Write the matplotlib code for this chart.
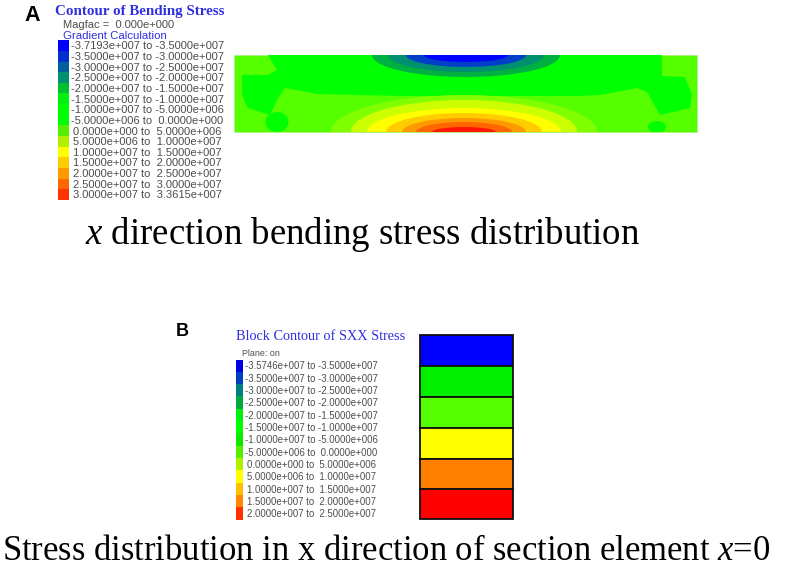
import matplotlib
matplotlib.use("Agg")
import matplotlib.pyplot as plt
from matplotlib.patches import Ellipse, Polygon, Rectangle

plt.rcParams["mathtext.fontset"] = "custom"
plt.rcParams["mathtext.rm"] = "Liberation Serif"
plt.rcParams["mathtext.it"] = "Liberation Serif:italic"

# ---- legend data ----
labels_a = [
    "-3.7193e+007 to -3.5000e+007", "-3.5000e+007 to -3.0000e+007",
    "-3.0000e+007 to -2.5000e+007", "-2.5000e+007 to -2.0000e+007",
    "-2.0000e+007 to -1.5000e+007", "-1.5000e+007 to -1.0000e+007",
    "-1.0000e+007 to -5.0000e+006", "-5.0000e+006 to  0.0000e+000",
    " 0.0000e+000 to  5.0000e+006", " 5.0000e+006 to  1.0000e+007",
    " 1.0000e+007 to  1.5000e+007", " 1.5000e+007 to  2.0000e+007",
    " 2.0000e+007 to  2.5000e+007", " 2.5000e+007 to  3.0000e+007",
    " 3.0000e+007 to  3.3615e+007",
]
colors_a = ["#0000ff", "#0030d0", "#00609c", "#009070", "#00c030", "#00f010", "#00ff00",
            "#00ff00", "#55ee00", "#b0f000", "#ffff00", "#ffcc00", "#ff9900", "#ff6600", "#ff3300"]
labels_b = [
    "-3.5746e+007 to -3.5000e+007", "-3.5000e+007 to -3.0000e+007",
    "-3.0000e+007 to -2.5000e+007", "-2.5000e+007 to -2.0000e+007",
    "-2.0000e+007 to -1.5000e+007", "-1.5000e+007 to -1.0000e+007",
    "-1.0000e+007 to -5.0000e+006", "-5.0000e+006 to  0.0000e+000",
    " 0.0000e+000 to  5.0000e+006", " 5.0000e+006 to  1.0000e+007",
    " 1.0000e+007 to  1.5000e+007", " 1.5000e+007 to  2.0000e+007",
    " 2.0000e+007 to  2.5000e+007",
]
colors_b = ["#0000e0", "#0040c0", "#007f80", "#00a840", "#00f010", "#00ff00", "#10e800",
            "#55ee00", "#b0f000", "#ffff00", "#ffc000", "#ff8800", "#ff3300"]

# ---- contour A: bands (half widths and reach, px) ----
plate = (234, 55, 697, 132)
top_centre = 466
top_widths = [94, 78, 60, 42]
top_depths = [22, 17, 12, 7]
top_colors = ["#00b040", "#009070", "#0040c8", "#0000ff"]
bottom_centre = 464
bottom_widths = [133, 113, 97, 78, 62, 48, 32]
bottom_depths = [37, 32, 24, 19, 14, 10, 5]
bottom_colors = ["#80ff00", "#ccff00", "#ffff00", "#ffcc00", "#ff9900", "#ff6600", "#ff1500"]
green_outline = [(268, 55), (662, 55), (662, 76), (685, 77), (692, 95), (690, 108), (660, 115),
                 (647, 92), (637, 88), (600, 95), (577, 96), (400, 96), (318, 94), (285, 88),
                 (278, 98), (270, 115), (248, 108), (242, 95), (242, 75), (268, 75), (277, 70)]
green_blobs_x = [277, 657]
green_blobs_y = [122, 127]
green_blobs_w = [23, 18]
green_blobs_h = [20, 12]

# ---- section B: blocks top to bottom ----
block_edges = [335, 366, 397, 428, 459, 489, 519]
block_colors = ["#0000ff", "#00f000", "#55ff00", "#ffff00", "#ff8000", "#ff0000"]

GREY = "#4d4d4d"
SANS = "Liberation Sans"
SERIF = "Liberation Serif"


def draw_legend(ax, labels, colors, x0, width, y0, pitch, text_x, size):
    for i, (lab, col) in enumerate(zip(labels, colors)):
        ax.add_patch(Rectangle((x0, y0 + i * pitch), width, pitch, fc=col, ec="none"))
        # leading space of positive ranges is kept as an offset
        ax.text(text_x + (2.5 if lab.startswith(" ") else 0), y0 + (i + 0.5) * pitch + 0.8, lab.strip(),
                family=SANS, fontsize=size, color=GREY, va="center", ha="left")


fig = plt.figure(figsize=(8.09, 5.70), dpi=100)
ax = fig.add_axes([0, 0, 1, 1])
ax.set_xlim(0, 809)
ax.set_ylim(570, 0)
ax.axis("off")

# panel A
ax.text(24, 15.5, "A", family=SANS, weight="bold", fontsize=15.5, va="center", color="black")
ax.text(55, 11.5, "Contour of Bending Stress", family=SERIF, weight="bold", fontsize=10.8,
        color="#3030e0", va="center")
ax.text(63, 25.5, "Magfac =  0.000e+000", family=SANS, fontsize=8, color=GREY, va="center")
ax.text(63, 36, "Gradient Calculation", family=SANS, fontsize=8.2, color="#3030e0", va="center")
draw_legend(ax, labels_a, colors_a, 58, 11, 40.2, 10.65, 71, 8)

x1, y1, x2, y2 = plate
base = ax.add_patch(Rectangle((x1, y1), x2 - x1, y2 - y1, fc="#55ff00", ec="#b0f080", lw=0.6))
ax.add_patch(Polygon(green_outline, closed=True, fc="#00ff00", ec="none"))
for bx, by, bw, bh in zip(green_blobs_x, green_blobs_y, green_blobs_w, green_blobs_h):
    e = ax.add_patch(Ellipse((bx, by), bw, bh, fc="#00ff00", ec="none"))
    e.set_clip_path(base)
for w, d, c in zip(top_widths, top_depths, top_colors):
    e = ax.add_patch(Ellipse((top_centre, y1), 2 * w, 2 * d, fc=c, ec="none"))
    e.set_clip_path(base)
for w, d, c in zip(bottom_widths, bottom_depths, bottom_colors):
    e = ax.add_patch(Ellipse((bottom_centre, y2), 2 * w, 2 * d, fc=c, ec="none"))
    e.set_clip_path(base)
ax.text(85, 234, r"$\mathit{x}$ direction bending stress distribution", family=SERIF,
        fontsize=26.5, color="black", va="center")

# panel B
ax.text(176, 332, "B", family=SANS, weight="bold", fontsize=13, va="center", color="black")
ax.text(236, 337, "Block Contour of SXX Stress", family=SERIF, fontsize=10.3, color="#3030e0", va="center")
ax.text(242, 354, "Plane: on", family=SANS, fontsize=6.4, color=GREY, va="center")
draw_legend(ax, labels_b, colors_b, 236, 7, 359.5, 12.33, 245, 6.9)
for top, bottom, col in zip(block_edges[:-1], block_edges[1:], block_colors):
    ax.add_patch(Rectangle((420.5, top), 93, bottom - top, fc=col, ec="#101010", lw=1.3))
ax.text(2, 551, r"Stress distribution in x direction of section element $\mathit{x}$=0", family=SERIF,
        fontsize=24.9, color="black", va="center")

fig.savefig("out.png", dpi=100)
